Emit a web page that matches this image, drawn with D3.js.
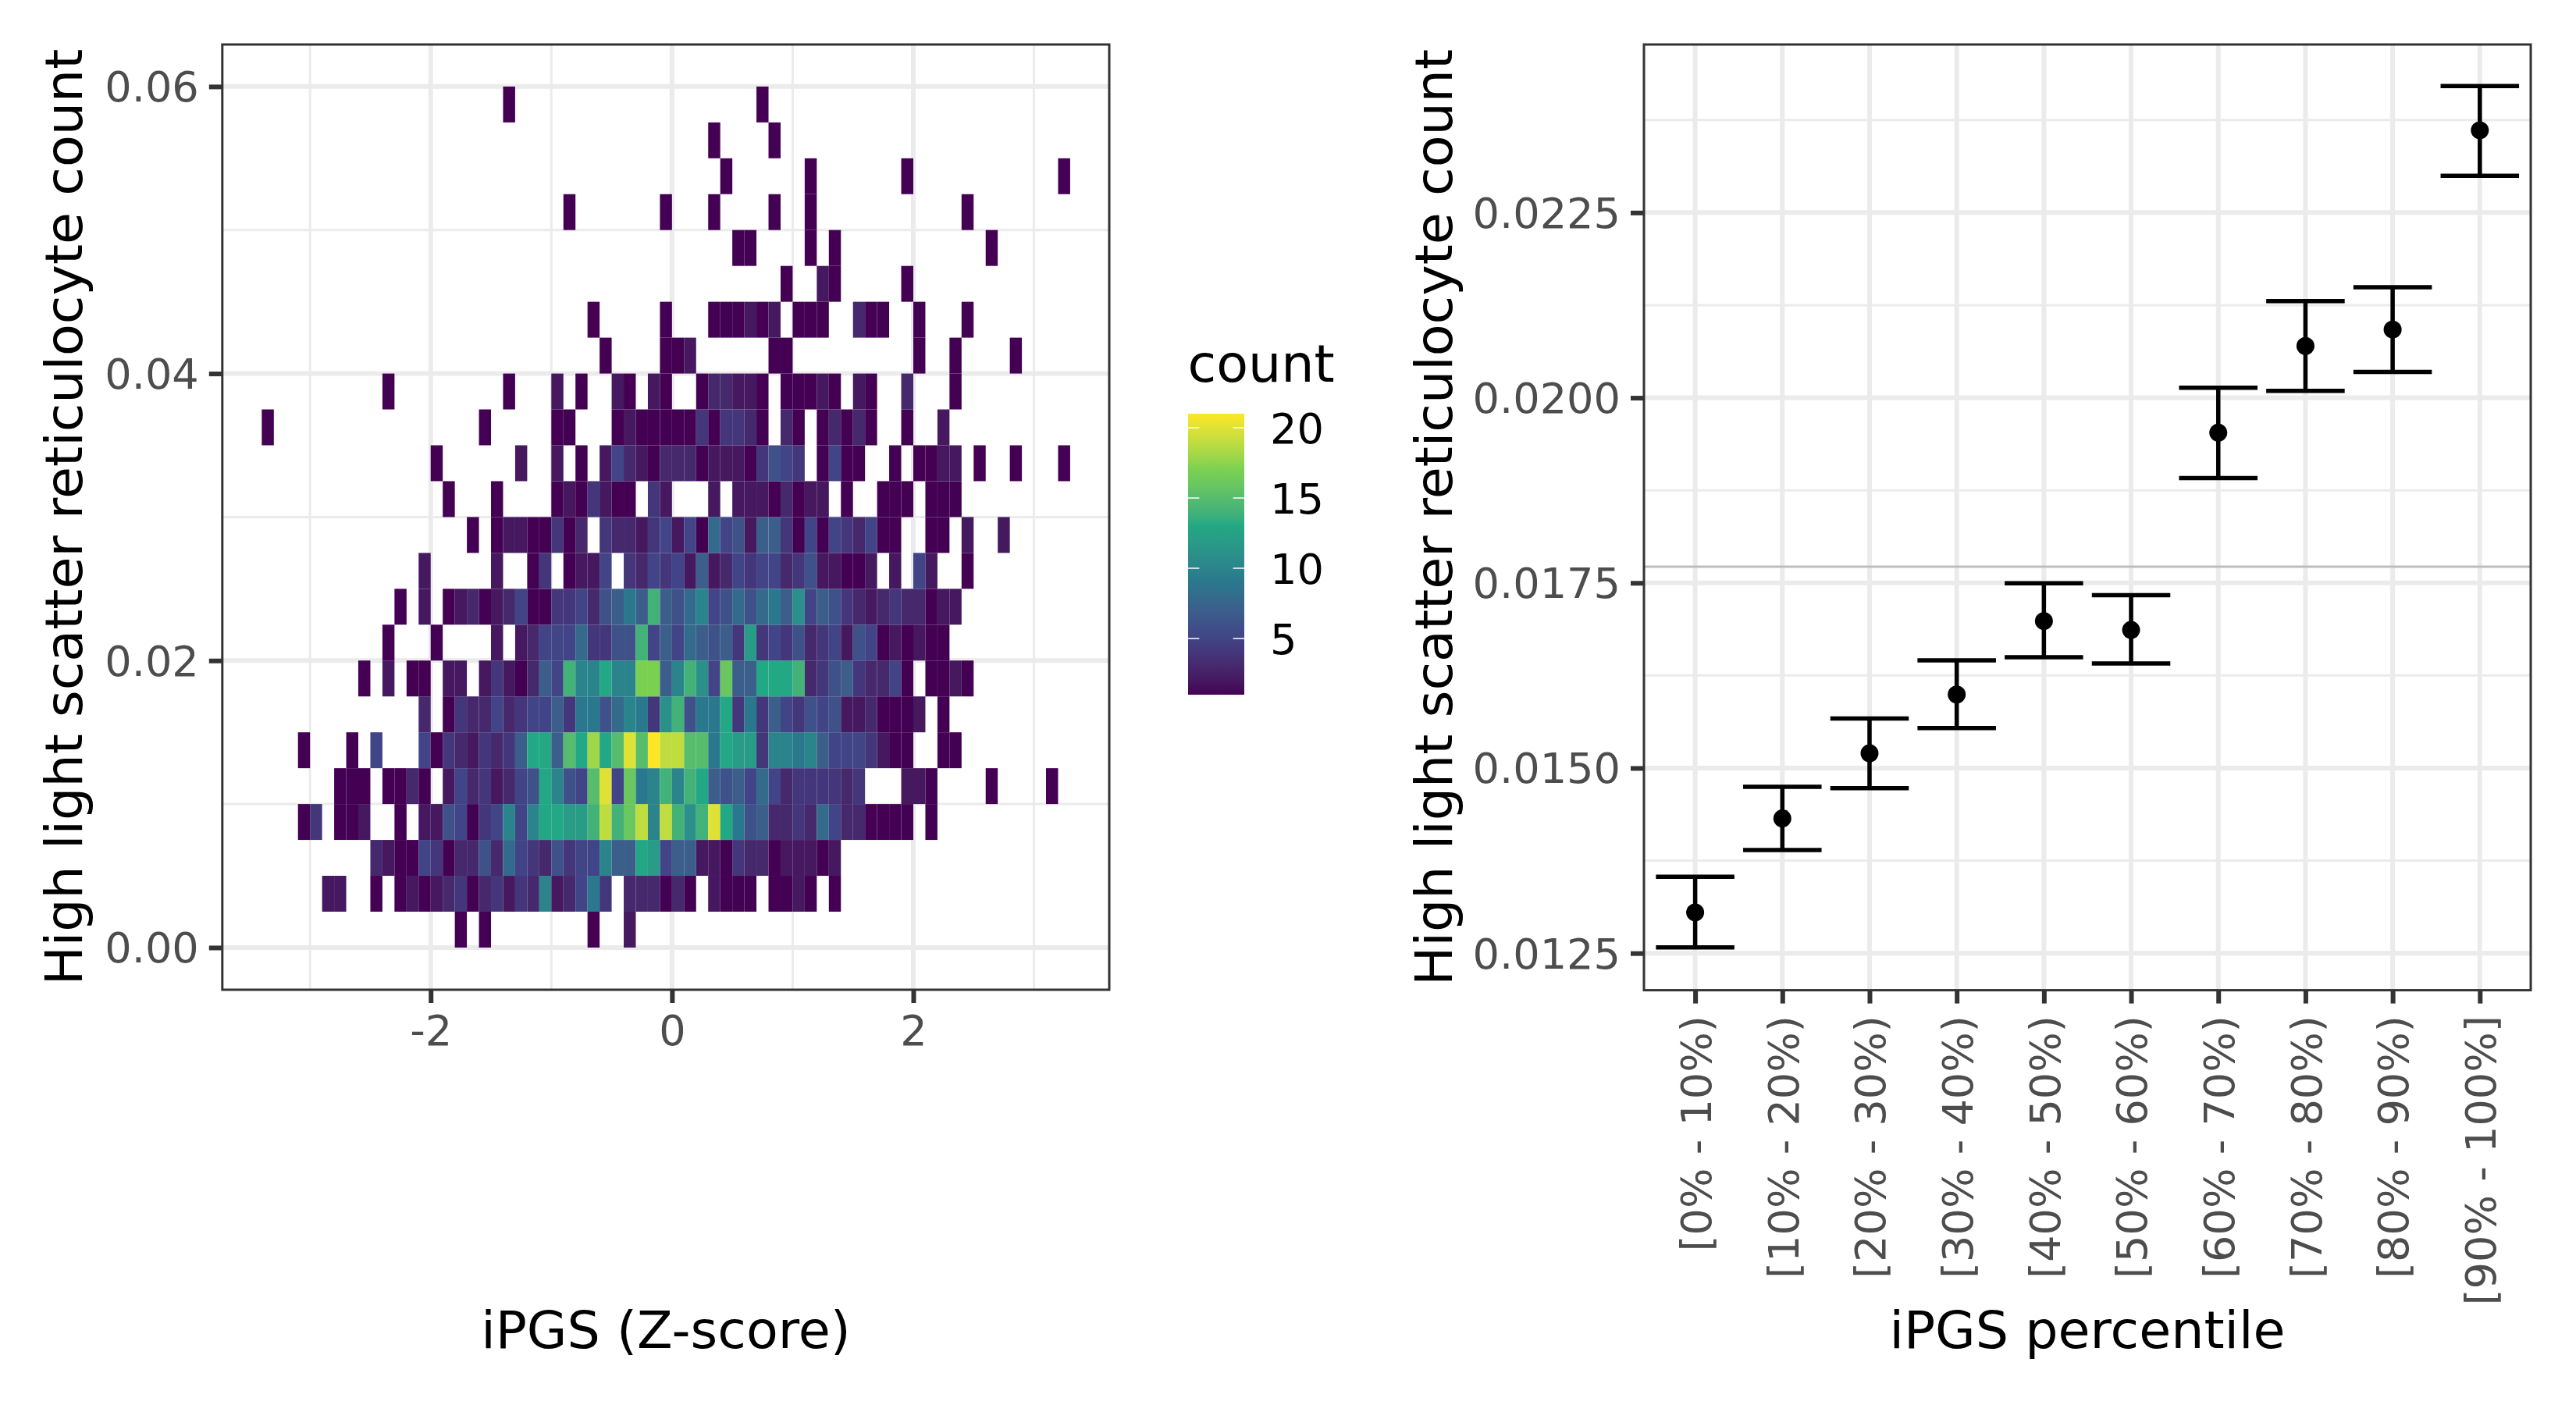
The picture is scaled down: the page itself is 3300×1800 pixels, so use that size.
<!DOCTYPE html>
<html><head><meta charset="utf-8">
<script src="https://cdn.jsdelivr.net/npm/d3@7"></script>
<style>html,body{margin:0;padding:0;background:#fff}svg{display:block}text{font-family:"DejaVu Sans"}</style>
</head><body>
<script>
// Left panel: 2D histogram. Bin size in each axis.
const binWidthX = 0.1, binWidthY = 0.0025;
// Each row: [column index (x = column*binWidthX), count]; rows run upward from y = 0.
const binRows = [
[[-18,1],[-16,1],[-7,1],[-4,2]],
[[-29,2],[-28,2],[-25,1],[-23,1],[-22,2],[-21,1],[-20,2],[-19,3],[-18,4],[-17,1],[-16,3],[-15,4],[-14,2],[-13,4],[-12,3],[-11,10],[-10,2],[-9,3],[-8,5],[-7,9],[-6,4],[-4,3],[-3,3],[-2,3],[-1,1],[0,3],[1,1],[3,2],[4,1],[5,1],[6,1],[8,1],[9,1],[10,2],[11,1],[13,1]],
[[-25,3],[-24,2],[-23,1],[-22,1],[-21,5],[-20,4],[-19,1],[-18,3],[-17,3],[-16,6],[-15,3],[-14,8],[-13,5],[-12,4],[-11,3],[-10,6],[-9,4],[-8,5],[-7,5],[-6,10],[-5,7],[-4,7],[-3,13],[-2,12],[-1,5],[0,7],[1,7],[2,2],[3,2],[4,1],[5,4],[6,3],[7,3],[8,1],[9,2],[10,2],[11,2],[12,1],[13,2]],
[[-31,1],[-30,4],[-28,1],[-27,1],[-26,2],[-23,1],[-21,2],[-20,2],[-19,6],[-18,5],[-17,1],[-16,4],[-15,5],[-14,10],[-13,5],[-12,10],[-11,13],[-10,13],[-9,12],[-8,12],[-7,14],[-6,19],[-5,14],[-4,16],[-3,19],[-2,10],[-1,19],[0,14],[1,11],[2,14],[3,20],[4,13],[5,9],[6,6],[7,7],[8,3],[9,3],[10,4],[11,3],[12,8],[13,5],[14,3],[15,3],[16,1],[17,1],[18,1],[19,1],[21,1]],
[[-28,1],[-27,1],[-26,1],[-24,1],[-23,1],[-22,3],[-21,1],[-19,2],[-18,5],[-17,3],[-16,4],[-15,2],[-14,3],[-13,5],[-12,6],[-11,13],[-10,10],[-9,6],[-8,5],[-7,15],[-6,20],[-5,5],[-4,16],[-3,9],[-2,10],[-1,14],[0,10],[1,14],[2,13],[3,7],[4,6],[5,7],[6,5],[7,8],[8,5],[9,3],[10,4],[11,4],[12,4],[13,4],[14,3],[15,4],[19,2],[20,2],[21,1],[26,1],[31,1]],
[[-31,1],[-27,1],[-25,5],[-21,5],[-20,1],[-19,4],[-18,3],[-17,2],[-16,4],[-15,3],[-14,4],[-13,7],[-12,13],[-11,13],[-10,7],[-9,15],[-8,13],[-7,18],[-6,13],[-5,15],[-4,20],[-3,15],[-2,21],[-1,19],[0,19],[1,15],[2,15],[3,9],[4,13],[5,12],[6,12],[7,4],[8,10],[9,10],[10,9],[11,10],[12,7],[13,5],[14,5],[15,5],[16,4],[17,2],[18,1],[19,1],[22,1],[23,1]],
[[-21,3],[-19,1],[-18,4],[-17,3],[-16,3],[-15,5],[-14,3],[-13,4],[-12,5],[-11,5],[-10,7],[-9,4],[-8,9],[-7,9],[-6,6],[-5,8],[-4,10],[-3,9],[-2,4],[-1,11],[0,14],[1,6],[2,9],[3,9],[4,13],[5,4],[6,9],[7,4],[8,7],[9,5],[10,4],[11,6],[12,5],[13,6],[14,2],[15,2],[16,3],[17,1],[18,1],[19,1],[20,2],[22,1]],
[[-26,1],[-24,2],[-22,1],[-21,1],[-19,2],[-18,2],[-16,2],[-15,4],[-14,2],[-13,1],[-12,3],[-11,7],[-10,5],[-9,14],[-8,10],[-7,10],[-6,13],[-5,10],[-4,10],[-3,17],[-2,17],[-1,7],[0,10],[1,14],[2,11],[3,5],[4,16],[5,7],[6,7],[7,13],[8,13],[9,13],[10,14],[11,3],[12,4],[13,6],[14,7],[15,4],[16,3],[17,3],[18,5],[19,1],[21,1],[22,1],[23,2],[24,1]],
[[-24,1],[-20,1],[-15,2],[-13,2],[-12,3],[-11,5],[-10,5],[-9,5],[-8,8],[-7,4],[-6,4],[-5,6],[-4,6],[-3,14],[-2,5],[-1,7],[0,5],[1,8],[2,7],[3,6],[4,7],[5,4],[6,12],[7,4],[8,5],[9,4],[10,6],[11,3],[12,4],[13,5],[14,2],[15,6],[16,5],[17,1],[18,2],[19,1],[20,2],[21,1],[22,1]],
[[-23,1],[-21,2],[-19,1],[-18,2],[-17,3],[-16,1],[-15,2],[-14,3],[-13,5],[-12,1],[-11,1],[-10,4],[-9,4],[-8,5],[-7,3],[-6,6],[-5,7],[-4,9],[-3,7],[-2,14],[-1,7],[0,6],[1,8],[2,10],[3,5],[4,6],[5,8],[6,6],[7,8],[8,9],[9,7],[10,11],[11,5],[12,7],[13,6],[14,4],[15,3],[16,2],[17,3],[18,4],[19,3],[20,3],[21,1],[22,2],[23,2]],
[[-21,2],[-15,2],[-12,1],[-11,4],[-9,1],[-8,2],[-7,2],[-6,5],[-4,4],[-3,3],[-2,5],[-1,4],[0,5],[1,2],[2,7],[3,2],[4,3],[5,5],[6,4],[7,5],[8,5],[9,3],[10,4],[11,6],[12,2],[13,2],[14,1],[15,1],[16,2],[18,2],[20,5],[21,2],[24,1]],
[[-17,1],[-15,1],[-14,2],[-13,2],[-12,1],[-11,1],[-10,4],[-9,1],[-8,3],[-6,4],[-5,3],[-4,3],[-3,2],[-2,4],[-1,5],[0,2],[1,5],[2,1],[3,8],[4,5],[5,6],[6,2],[7,7],[8,7],[9,4],[10,1],[11,5],[12,1],[13,5],[14,4],[15,3],[16,5],[17,1],[18,1],[21,1],[22,1],[24,2],[27,2]],
[[-19,1],[-15,1],[-10,1],[-9,2],[-8,1],[-7,4],[-6,2],[-5,1],[-4,1],[-2,4],[-1,2],[3,2],[5,2],[6,2],[7,2],[8,1],[9,3],[10,1],[11,2],[12,2],[14,1],[17,1],[18,1],[19,1],[21,1],[22,1],[23,1]],
[[-20,1],[-13,2],[-10,2],[-8,1],[-6,2],[-5,5],[-4,3],[-3,2],[-2,1],[-1,3],[0,3],[1,3],[2,1],[3,2],[4,2],[5,2],[6,1],[7,4],[8,6],[9,5],[10,4],[12,1],[13,5],[14,1],[15,1],[18,1],[20,1],[21,1],[22,2],[23,2],[25,1],[28,1],[32,1]],
[[-34,1],[-16,1],[-10,1],[-9,1],[-5,1],[-4,2],[-3,1],[-2,1],[-1,1],[0,1],[1,1],[2,4],[3,1],[4,4],[5,4],[6,3],[7,1],[9,3],[10,1],[12,1],[13,3],[14,1],[15,3],[16,1],[19,1],[22,2]],
[[-24,1],[-14,1],[-10,2],[-8,1],[-5,2],[-4,1],[-2,2],[-1,1],[2,1],[3,3],[4,3],[5,2],[6,2],[7,1],[9,1],[10,1],[11,1],[12,2],[13,1],[15,2],[16,1],[19,3],[23,1]],
[[-6,1],[-1,1],[0,1],[1,2],[8,1],[9,1],[20,1],[23,1],[28,1]],
[[-7,1],[-1,1],[3,1],[4,1],[5,1],[6,2],[7,1],[8,2],[10,1],[11,1],[12,1],[15,3],[16,1],[17,1],[20,1],[24,1]],
[[9,1],[12,2],[13,1],[19,1]],
[[5,1],[6,1],[11,1],[13,1],[26,1]],
[[-9,1],[-1,1],[3,1],[8,1],[11,1],[24,1]],
[[4,1],[11,1],[19,1],[32,1]],
[[3,1],[8,1]],
[[-14,1],[7,1]]
];
const xTicksLeft = [-2,0,2], xMinorLeft = [-3,-1,1,3];
const yTicksLeft = [0,0.02,0.04,0.06], yMinorLeft = [0.01,0.03,0.05];
const legendTicks = [5,10,15,20];
const viridisStops = ["#440154","#414487","#2A788E","#22A884","#7AD151","#FDE725"];
const countStops = [1,5,9,13,17,21];

// Right panel: means with error bars.
const percentileLabels = ["[0% - 10%)","[10% - 20%)","[20% - 30%)","[30% - 40%)","[40% - 50%)","[50% - 60%)","[60% - 70%)","[70% - 80%)","[80% - 90%)","[90% - 100%]"];
const means = [0.01305,0.014319,0.015199,0.015993,0.016984,0.016864,0.019529,0.020699,0.020921,0.023611];
const uppers = [0.013533,0.014746,0.015668,0.016454,0.017496,0.017334,0.020135,0.021305,0.021493,0.024209];
const lowers = [0.012577,0.013892,0.014729,0.01554,0.016497,0.016412,0.018914,0.020093,0.020349,0.022996];
const referenceLine = 0.017718;
const yTicksRight = [0.0125,0.015,0.0175,0.02,0.0225];
const yMinorRight = [0.01375,0.01625,0.01875,0.02125,0.02375];

const GRID="#EBEBEB", BORDER="#333333", TICKTXT="#4D4D4D";
const TITLE_SIZE=66.67, TEXT_SIZE=54.17;
const svg = d3.select("body").append("svg").attr("width",3300).attr("height",1800);
svg.append("rect").attr("width",3300).attr("height",1800).attr("fill","#fff");

const color = d3.scaleLinear().domain(countStops).range(viridisStops).interpolate(d3.interpolateLab);

const L = {l:284.8,r:1421,t:57,b:1268};
const R = {l:2106,r:3242,t:57,b:1268.6};
const xL = d3.scaleLinear().domain([-3.727,3.624]).range([L.l,L.r]);
const yL = d3.scaleLinear().domain([-0.00294,0.06293]).range([L.b,L.t]);
const xR = d3.scalePoint().domain(percentileLabels).range([2171.6,3176.8]);
const yR = d3.scaleLinear().domain([0.012,0.02477]).range([R.b,R.t]);

function grid(p,xs,ys,w){
  const g=svg.append("g");
  xs.forEach(v=>g.append("line").attr("x1",v).attr("x2",v).attr("y1",p.t).attr("y2",p.b).attr("stroke",GRID).attr("stroke-width",w));
  ys.forEach(v=>g.append("line").attr("y1",v).attr("y2",v).attr("x1",p.l).attr("x2",p.r).attr("stroke",GRID).attr("stroke-width",w));
}
grid(L,xMinorLeft.map(xL),yMinorLeft.map(yL),3);
grid(L,xTicksLeft.map(xL),yTicksLeft.map(yL),6);
grid(R,[],yMinorRight.map(yR),3);
grid(R,percentileLabels.map(xR),yTicksRight.map(yR),6);

// Heat map
const cells = binRows.flatMap((row,r)=>row.map(([c,n])=>({c,r,n})));
svg.append("g").selectAll("rect").data(cells).join("rect")
  .attr("x",d=>xL(d.c*binWidthX))
  .attr("width",d=>xL((d.c+1)*binWidthX)-xL(d.c*binWidthX))
  .attr("y",d=>yL((d.r+1)*binWidthY))
  .attr("height",d=>yL(d.r*binWidthY)-yL((d.r+1)*binWidthY))
  .attr("fill",d=>color(d.n));

// Right panel marks
svg.append("line").attr("x1",R.l).attr("x2",R.r).attr("y1",yR(referenceLine)).attr("y2",yR(referenceLine))
  .attr("stroke","#BEBEBE").attr("stroke-width",3);
const capHalf = xR.step()*0.45;
const er = svg.append("g").selectAll("g").data(percentileLabels).join("g");
er.append("line").attr("x1",d=>xR(d)).attr("x2",d=>xR(d)).attr("y1",(d,i)=>yR(uppers[i])).attr("y2",(d,i)=>yR(lowers[i])).attr("stroke","#000").attr("stroke-width",5.5);
er.append("line").attr("x1",d=>xR(d)-capHalf).attr("x2",d=>xR(d)+capHalf).attr("y1",(d,i)=>yR(uppers[i])).attr("y2",(d,i)=>yR(uppers[i])).attr("stroke","#000").attr("stroke-width",5.5);
er.append("line").attr("x1",d=>xR(d)-capHalf).attr("x2",d=>xR(d)+capHalf).attr("y1",(d,i)=>yR(lowers[i])).attr("y2",(d,i)=>yR(lowers[i])).attr("stroke","#000").attr("stroke-width",5.5);
er.append("circle").attr("cx",d=>xR(d)).attr("cy",(d,i)=>yR(means[i])).attr("r",11.5).attr("fill","#000");

// Borders
[L,R].forEach(p=>svg.append("rect").attr("x",p.l).attr("y",p.t).attr("width",p.r-p.l).attr("height",p.b-p.t)
  .attr("fill","none").attr("stroke",BORDER).attr("stroke-width",3));

// Axes
function styleAxis(g){
  g.select(".domain").remove();
  g.selectAll(".tick line").attr("stroke",BORDER).attr("stroke-width",6);
  g.selectAll(".tick text").attr("fill",TICKTXT).attr("font-size",TEXT_SIZE).attr("font-family","DejaVu Sans");
}
const TL=17, TP=13;
const axLb = svg.append("g").attr("transform",`translate(0,${L.b})`)
  .call(d3.axisBottom(xL).tickValues(xTicksLeft).tickSize(TL).tickPadding(TP).tickFormat(d=>String(d)))
  .call(styleAxis);
axLb.selectAll(".tick text").attr("y",71).attr("dy",0);
const axLl = svg.append("g").attr("transform",`translate(${L.l},0)`)
  .call(d3.axisLeft(yL).tickValues(yTicksLeft).tickSize(TL).tickPadding(TP).tickFormat(d3.format(".2f")))
  .call(styleAxis);
axLl.selectAll(".tick text").attr("dy","0.35em");
const axRl = svg.append("g").attr("transform",`translate(${R.l},0)`)
  .call(d3.axisLeft(yR).tickValues(yTicksRight).tickSize(TL).tickPadding(TP).tickFormat(d3.format(".4f")))
  .call(styleAxis);
axRl.selectAll(".tick text").attr("dy","0.35em");
const axR = svg.append("g").attr("transform",`translate(0,${R.b})`)
  .call(d3.axisBottom(xR).tickSize(TL).tickPadding(TP))
  .call(styleAxis);
axR.selectAll(".tick text").attr("text-anchor","end").attr("transform","rotate(-90)")
  .attr("x",-32.5).attr("y",0).attr("dy","0.365em");

// Titles
function title(x,y,s,rot){
  const t=svg.append("text").attr("font-size",TITLE_SIZE).attr("fill","#000").attr("text-anchor","middle").text(s);
  if(rot) t.attr("transform",`translate(${x},${y}) rotate(-90)`); else t.attr("x",x).attr("y",y);
  return t;
}
title((L.l+L.r)/2,1727,"iPGS (Z-score)");
title((R.l+R.r)/2,1727,"iPGS percentile");
title(105,(L.t+L.b)/2,"High light scatter reticulocyte count",true);
title(1860,(R.t+R.b)/2,"High light scatter reticulocyte count",true);

// Legend
const LG={l:1522,r:1594,t:530,b:890};
const yLeg=d3.scaleLinear().domain([1,21]).range([LG.b,LG.t]);
const grad=svg.append("defs").append("linearGradient").attr("id","vir").attr("x1",0).attr("x2",0).attr("y1",1).attr("y2",0);
d3.range(1,21.01,0.5).forEach(c=>grad.append("stop").attr("offset",(c-1)/20).attr("stop-color",color(c)));
svg.append("rect").attr("x",LG.l).attr("y",LG.t).attr("width",LG.r-LG.l).attr("height",LG.b-LG.t).attr("fill","url(#vir)");
const lt=svg.append("g").selectAll("g").data(legendTicks).join("g");
lt.append("line").attr("x1",LG.l).attr("x2",LG.l+14.4).attr("y1",yLeg).attr("y2",yLeg).attr("stroke","#fff").attr("stroke-width",1.5);
lt.append("line").attr("x1",LG.r-14.4).attr("x2",LG.r).attr("y1",yLeg).attr("y2",yLeg).attr("stroke","#fff").attr("stroke-width",1.5);
lt.append("text").attr("x",1627).attr("y",yLeg).attr("dy","0.365em").attr("font-size",TEXT_SIZE).attr("fill","#000").text(d=>d);
svg.append("text").attr("x",1521.5).attr("y",489).attr("font-size",TITLE_SIZE).attr("fill","#000").text("count");
</script>
</body></html>
